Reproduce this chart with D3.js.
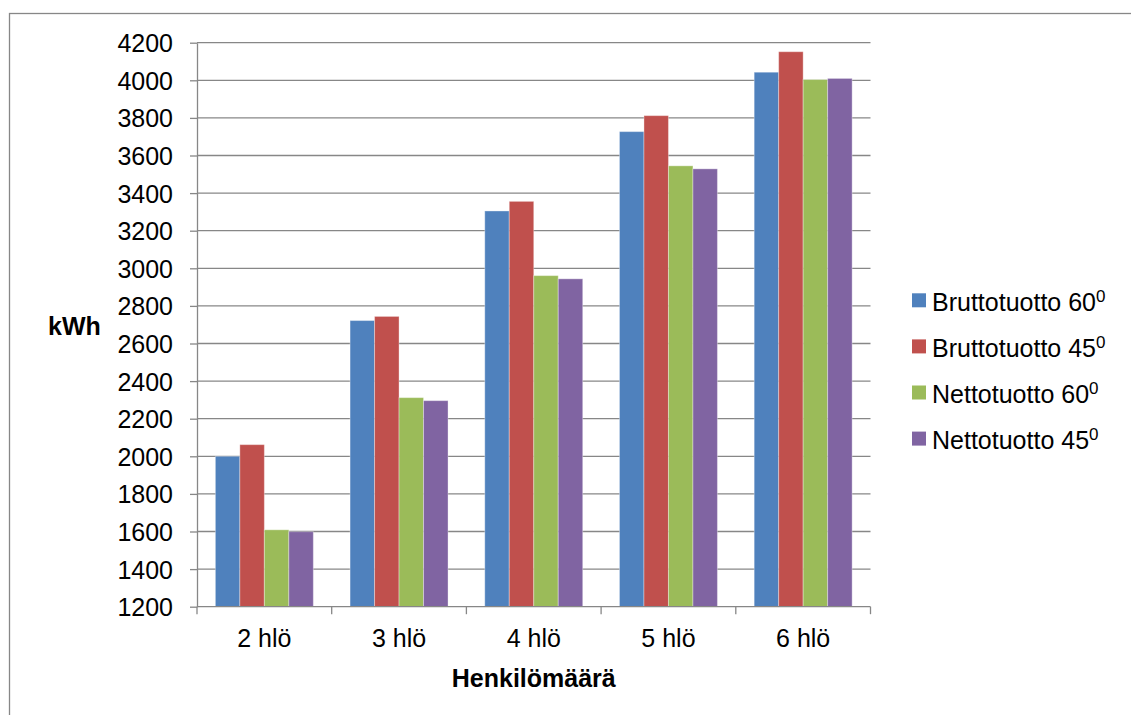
<!DOCTYPE html>
<html>
<head>
<meta charset="utf-8">
<script src="https://cdn.jsdelivr.net/npm/d3@7"></script>
<style>
  html, body { margin: 0; padding: 0; background: #fff; }
  svg { display: block; font-family: "Liberation Sans", Arial, sans-serif; }
</style>
</head>
<body>
<script>
// Household size groups
const categories = ["2 hlö", "3 hlö", "4 hlö", "5 hlö", "6 hlö"];

// Annual solar yield (kWh) per series
const bruttotuotto60 = [2000, 2722, 3305, 3727, 4043];
const bruttotuotto45 = [2062, 2744, 3356, 3812, 4152];
const nettotuotto60  = [1609, 2312, 2961, 3545, 4004];
const nettotuotto45  = [1599, 2296, 2944, 3529, 4010];

const seriesNames = ["Bruttotuotto 60", "Bruttotuotto 45", "Nettotuotto 60", "Nettotuotto 45"];
const seriesValues = [bruttotuotto60, bruttotuotto45, nettotuotto60, nettotuotto45];
const seriesColors = ["#4F81BD", "#C0504D", "#9BBB59", "#8064A2"];

const yTicks = [1200, 1400, 1600, 1800, 2000, 2200, 2400, 2600, 2800, 3000, 3200, 3400, 3600, 3800, 4000, 4200];

const W = 1131, H = 715;
const plot = { left: 197, right: 870.5, top: 42.7, bottom: 606.7 };
const gridColor = "#878787";
const fontSize = 25;

const svg = d3.select("body").append("svg")
  .attr("width", W).attr("height", H);

// Chart frame (extends past the bottom-right of the view)
svg.append("rect")
  .attr("x", 9.5).attr("y", 13.5)
  .attr("width", W + 20).attr("height", H + 20)
  .attr("fill", "none").attr("stroke", gridColor).attr("stroke-width", 1.3);

const y = d3.scaleLinear().domain([1200, 4200]).range([plot.bottom, plot.top]);
const x0 = d3.scaleBand().domain(categories).range([plot.left, plot.right]).padding(0);
const bw = x0.bandwidth();
const groupW = bw * 4 / 5.5;
const x1 = d3.scaleBand().domain(seriesNames)
  .range([(bw - groupW) / 2, (bw + groupW) / 2]).padding(0);

// Horizontal gridlines
svg.append("g").selectAll("line")
  .data(yTicks.slice(1))
  .join("line")
  .attr("x1", plot.left).attr("x2", plot.right)
  .attr("y1", d => y(d)).attr("y2", d => y(d))
  .attr("stroke", gridColor).attr("stroke-width", 1.3);

// Bars
const rows = categories.map((c, i) => ({
  cat: c,
  vals: seriesNames.map((s, j) => ({ s, v: seriesValues[j][i], color: seriesColors[j] }))
}));

svg.append("g").selectAll("g")
  .data(rows)
  .join("g")
  .attr("transform", d => `translate(${x0(d.cat)},0)`)
  .selectAll("rect")
  .data(d => d.vals)
  .join("rect")
  .attr("x", d => x1(d.s))
  .attr("width", x1.bandwidth())
  .attr("y", d => y(d.v))
  .attr("height", d => y(1200) - y(d.v))
  .attr("fill", d => d.color)
  .attr("stroke", "rgba(255,255,255,0.35)")
  .attr("stroke-width", 1);

// Y axis
const yAxis = svg.append("g")
  .attr("transform", `translate(${plot.left},0)`)
  .call(d3.axisLeft(y).tickValues(yTicks).tickSize(7).tickPadding(17).tickSizeOuter(0).tickFormat(d3.format("d")));
yAxis.select(".domain").attr("stroke", gridColor).attr("stroke-width", 1.3);
yAxis.selectAll(".tick line").attr("stroke", gridColor).attr("stroke-width", 1.3);
yAxis.selectAll(".tick text").attr("font-size", fontSize).attr("fill", "#000")
  .attr("font-family", "'Liberation Sans', Arial, sans-serif").attr("dy", "0.36em");

// X axis with tick marks on category boundaries
const xAxisG = svg.append("g").attr("transform", `translate(0,${plot.bottom})`);
xAxisG.append("line")
  .attr("x1", plot.left).attr("x2", plot.right)
  .attr("stroke", gridColor).attr("stroke-width", 1.3);
const boundaries = categories.map(c => x0(c)).concat([plot.right]);
xAxisG.selectAll("line.tk")
  .data(boundaries)
  .join("line").attr("class", "tk")
  .attr("x1", d => d).attr("x2", d => d)
  .attr("y1", 0).attr("y2", 7.5)
  .attr("stroke", gridColor).attr("stroke-width", 1.3);
xAxisG.selectAll("text")
  .data(categories)
  .join("text")
  .attr("x", d => x0(d) + bw / 2)
  .attr("y", 40.6)
  .attr("text-anchor", "middle")
  .attr("font-size", fontSize)
  .attr("fill", "#000")
  .text(d => d);

// Axis titles
svg.append("text")
  .attr("x", (plot.left + plot.right) / 2).attr("y", 686.5)
  .attr("text-anchor", "middle").attr("font-size", fontSize).attr("font-weight", "bold")
  .text("Henkilömäärä");
svg.append("text")
  .attr("x", 48).attr("y", 335)
  .attr("font-size", fontSize).attr("font-weight", "bold")
  .text("kWh");

// Legend
const legend = svg.append("g").attr("transform", "translate(912,293.3)");
const item = legend.selectAll("g")
  .data(seriesNames)
  .join("g")
  .attr("transform", (d, i) => `translate(0,${i * 46.1})`);
item.append("rect")
  .attr("width", 14).attr("height", 14)
  .attr("fill", (d, i) => seriesColors[i]);
const lt = item.append("text")
  .attr("x", 20).attr("y", 17.4)
  .attr("font-size", fontSize).attr("fill", "#000");
lt.append("tspan").text(d => d);
lt.append("tspan").attr("font-size", 17).attr("dy", -9).text("0");
</script>
</body>
</html>
